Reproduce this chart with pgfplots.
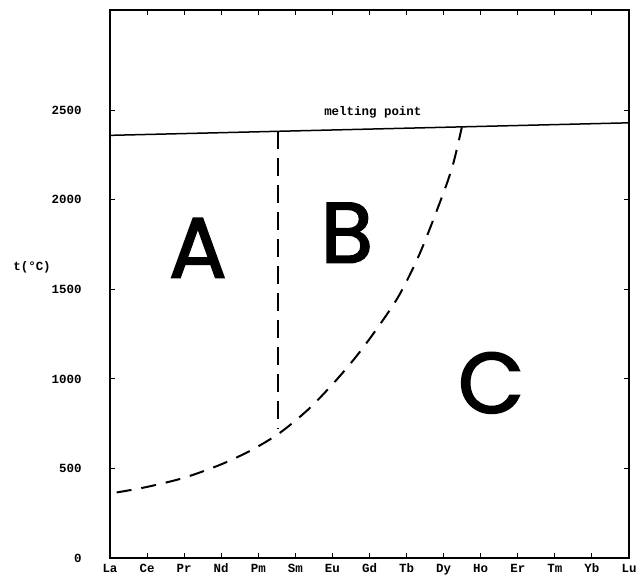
\documentclass[border=0pt]{standalone}
\usepackage{fontspec}
\setmainfont{Liberation Mono}
\newfontfamily\bigfont{Poppins}[FakeBold=2]
\usepackage{pgfplots}
\pgfplotsset{compat=1.18}
\begin{document}
\begin{tikzpicture}
\begin{axis}[
  scale only axis, width=519bp, height=548bp,
  xmin=0, xmax=14, ymin=0, ymax=3060,
  xtick={0,...,14},
  xticklabels={La,Ce,Pr,Nd,Pm,Sm,Eu,Gd,Tb,Dy,Ho,Er,Tm,Yb,Lu},
  ytick={0,500,1000,1500,2000,2500},
  yticklabels={0,500,1000,1500,2000,2500},
  tick align=inside, major tick length=5bp,
  tick style={line width=1bp, black},
  axis line style={line width=1.5bp},
  xticklabel style={font=\bfseries\fontsize{12.5}{14}\selectfont, text height=8bp, text depth=2bp, yshift=-3bp},
  yticklabel style={font=\bfseries\fontsize{12.5}{14}\selectfont, xshift=-25bp},
  ylabel={t(°C)},
  every axis y label/.style={at={(axis description cs:-0.193,0.531)}, anchor=west, font=\bfseries\fontsize{12.5}{14}\selectfont},
]
% melting point line
\addplot[black, line width=1.5bp] coordinates {(0,2360) (14,2430)};
% A/B boundary
\addplot[black, line width=2bp, dash pattern=on 18bp off 9bp] coordinates {(4.53,2383) (4.53,720)};
% lower boundary curve
\addplot[black, line width=2bp, smooth, dash pattern=on 15bp off 10bp] coordinates {
(0.18,366) (1.0,397) (2.0,448) (3.0,523) (3.82,603) (4.59,700) (5.35,830)
(6.02,974) (6.61,1117) (7.15,1266) (7.78,1460) (8.36,1702) (8.99,2036)
(9.26,2203) (9.49,2405)};
\node[font=\bfseries\fontsize{12.5}{14}\selectfont] at (axis cs:7.09,2486) {melting point};
\node[font=\bigfont\fontsize{86}{86}\selectfont, inner sep=0pt] at (axis cs:2.37,1732) {A};
\node[font=\bigfont\fontsize{86}{86}\selectfont, inner sep=0pt] at (axis cs:6.39,1816) {B};
\node[font=\bigfont\fontsize{86}{86}\selectfont, inner sep=0pt] at (axis cs:10.28,978) {C};
\end{axis}
\pgfresetboundingbox
\path[use as bounding box] ([xshift=-110bp,yshift=-20bp]current axis.south west) rectangle ([xshift=7bp,yshift=10bp]current axis.north east);
\end{tikzpicture}
\end{document}
